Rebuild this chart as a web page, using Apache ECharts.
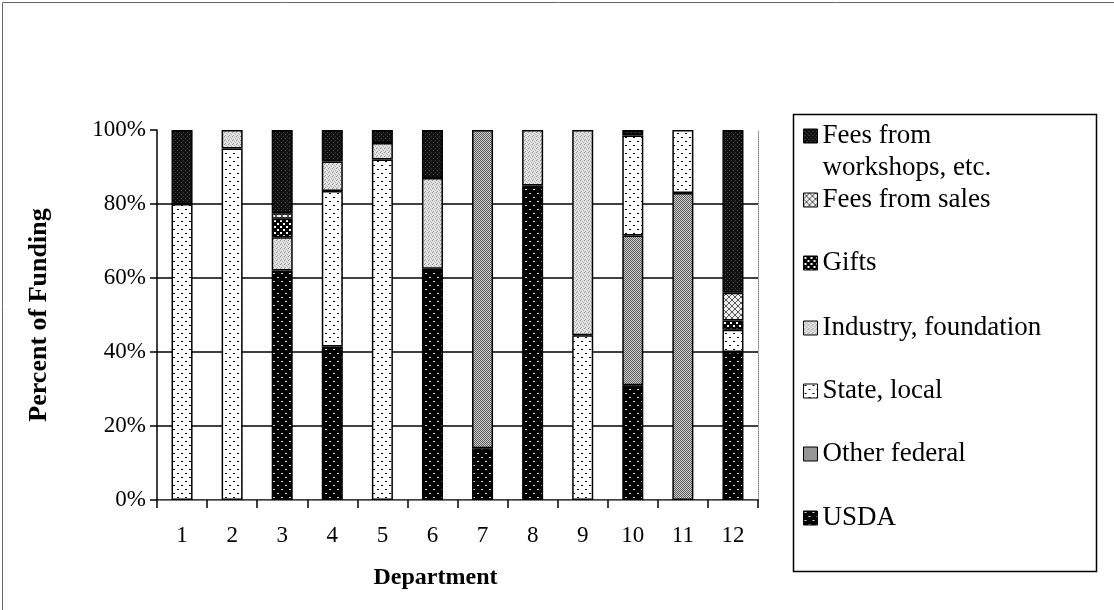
<!DOCTYPE html>
<html>
<head>
<meta charset="utf-8">
<script src="https://cdn.jsdelivr.net/npm/echarts@6/dist/echarts.min.js"></script>
<style>
  html, body { margin: 0; padding: 0; background: #fff; }
  #chart { width: 1114px; height: 610px; }
</style>
</head>
<body>
<div id="chart"></div>
<script>
// ---------- data ----------
const departments = ['1','2','3','4','5','6','7','8','9','10','11','12'];
const yTicks = [0, 20, 40, 60, 80, 100];
const usda         = [0, 0, 62, 41.5, 0, 62.5, 14, 85, 0, 31, 0, 40];
const otherFederal = [0, 0, 0, 0, 0, 0, 86, 0, 0, 40.5, 83, 0];
const stateLocal   = [80, 95, 0, 42, 92, 0, 0, 0, 44.5, 27, 17, 6];
const industry     = [0, 5, 9, 8, 4.5, 24.5, 0, 15, 55.5, 0, 0, 0];
const gifts        = [0, 0, 5, 0, 0, 0, 0, 0, 0, 0, 0, 2.5];
const feesSales    = [0, 0, 1.5, 0, 0, 0, 0, 0, 0, 0, 0, 7.5];
const feesWorkshops= [20, 0, 22.5, 8.5, 3.5, 13, 0, 0, 0, 1.5, 0, 44];
const seriesNames = ['USDA', 'Other federal', 'State, local', 'Industry, foundation', 'Gifts', 'Fees from sales', 'Fees from workshops, etc.'];
const seriesValues = [usda, otherFederal, stateLocal, industry, gifts, feesSales, feesWorkshops];

// ---------- patterns (style) ----------
function pattern(w, h, bg, dots) {
  const c = document.createElement('canvas');
  c.width = w; c.height = h;
  const ctx = c.getContext('2d');
  ctx.fillStyle = bg; ctx.fillRect(0, 0, w, h);
  dots.forEach(d => { ctx.fillStyle = d[4]; ctx.fillRect(d[0], d[1], d[2], d[3]); });
  return { image: c, repeat: 'repeat' };
}
function crosshatch() {
  const c = document.createElement('canvas');
  c.width = 6; c.height = 6;
  const ctx = c.getContext('2d');
  ctx.fillStyle = '#eeeeee'; ctx.fillRect(0, 0, 6, 6);
  ctx.fillStyle = '#555';
  for (let i = 0; i < 6; i++) { ctx.fillRect(i, i, 1, 1); ctx.fillRect(5 - i, i, 1, 1); }
  return { image: c, repeat: 'repeat' };
}
const fills = [
  pattern(8, 8, '#000', [[1,1,2,1,'#e0e0e0'],[5,5,2,1,'#e0e0e0']]),                // USDA
  pattern(2, 2, '#d2d2d2', [[0,0,1,1,'#5a5a5a'],[1,1,1,1,'#5a5a5a']]),               // Other federal
  pattern(8, 8, '#fff', [[1,1,2,1,'#000'],[5,5,2,1,'#000']]),                        // State, local
  pattern(4, 4, '#e4e4e4', [[0,0,1,1,'#888'],[2,1,1,1,'#aaa'],[1,3,1,1,'#999'],[3,2,1,1,'#aaa']]), // Industry
  pattern(6, 6, '#000', [[1,1,2,2,'#fff'],[4,4,2,2,'#fff']]),                        // Gifts
  crosshatch(),                                                                      // Fees from sales
  pattern(4, 4, '#111', [[1,2,1,1,'#555'],[3,0,1,1,'#444']])                         // Fees from workshops
];

const FONT = 'Liberation Serif';
const legendCenters = [518, 454, 391, 328, 263, 200, 136]; // layout (y of first text line)
const LH = 32;

const series = seriesNames.map((name, i) => ({
  name: name,
  type: 'bar',
  stack: 'total',
  barWidth: '42%',
  data: seriesValues[i].map(v => v === 0 ? null : v),
  itemStyle: { color: fills[i], borderColor: '#000', borderWidth: 1.5 },
  emphasis: { disabled: true }
}));

const legends = seriesNames.map((name, i) => {
  const twoLine = name.indexOf('workshops') >= 0;
  return {
    data: [name],
    orient: 'vertical',
    left: 803,
    top: twoLine ? legendCenters[i] - 1.5 * LH : legendCenters[i] - LH / 2,
    padding: 0,
    itemWidth: 14,
    itemHeight: 14,
    itemGap: 0,
    icon: 'rect',
    selectedMode: false,
    itemStyle: { borderColor: '#000', borderWidth: 1 },
    formatter: twoLine ? function () { return ' \nFees from\nworkshops, etc.'; } : undefined,
    textStyle: { fontFamily: FONT, fontSize: 27, color: '#000', lineHeight: LH }
  };
});

const chart = echarts.init(document.getElementById('chart'), null, { renderer: 'canvas' });
chart.setOption({
  animation: false,
  backgroundColor: '#fff',
  grid: { left: 157, right: 356, top: 130, bottom: 110 },
  legend: legends,
  xAxis: [{
    type: 'category',
    data: departments,
    name: 'Department',
    nameLocation: 'middle',
    nameGap: 66,
    nameTextStyle: { fontFamily: FONT, fontSize: 24, fontWeight: 'bold', color: '#000', padding: [0, 44, 0, 0] },
    axisLine: { lineStyle: { color: '#000', width: 1.5 } },
    axisTick: { show: true, alignWithLabel: false, length: 8, lineStyle: { color: '#000', width: 1.5 } },
    axisLabel: { fontFamily: FONT, fontSize: 23, color: '#000', margin: 24 },
    splitLine: { show: false }
  }, {
    type: 'category',
    data: departments,
    position: 'top',
    axisLine: { show: true, lineStyle: { color: '#888', width: 1, type: 'dotted' } },
    axisTick: { show: false },
    axisLabel: { show: false }
  }],
  yAxis: [{
    type: 'value',
    min: yTicks[0], max: yTicks[yTicks.length - 1], interval: yTicks[1] - yTicks[0],
    name: 'Percent of Funding',
    nameLocation: 'middle',
    nameRotate: 90,
    nameGap: 105,
    nameTextStyle: { fontFamily: FONT, fontSize: 26, fontWeight: 'bold', color: '#000' },
    axisLine: { show: true, lineStyle: { color: '#000', width: 1.5 } },
    axisTick: { show: true, length: 7, lineStyle: { color: '#000', width: 1.5 } },
    axisLabel: { fontFamily: FONT, fontSize: 23, color: '#000', margin: 11, formatter: '{value}%' },
    splitLine: { show: true, showMinLine: false, showMaxLine: false, lineStyle: { color: '#000', width: 1.5 } }
  }, {
    type: 'value',
    min: yTicks[0], max: yTicks[yTicks.length - 1], interval: yTicks[1] - yTicks[0],
    position: 'right',
    axisLine: { show: true, lineStyle: { color: '#888', width: 1, type: 'dotted' } },
    axisTick: { show: false },
    axisLabel: { show: false },
    splitLine: { show: false }
  }],
  graphic: [
    { type: 'rect', left: 0, top: 0, shape: { x: 0.5, y: 0.5, width: 1112, height: 608 }, style: { fill: 'none', stroke: '#666', lineWidth: 1 }, silent: true },
    { type: 'rect', shape: { x: 793.5, y: 114.5, width: 303, height: 457 }, style: { fill: 'none', stroke: '#000', lineWidth: 1.5 }, silent: true, z: -1 }
  ],
  series: series
});
</script>
</body>
</html>
